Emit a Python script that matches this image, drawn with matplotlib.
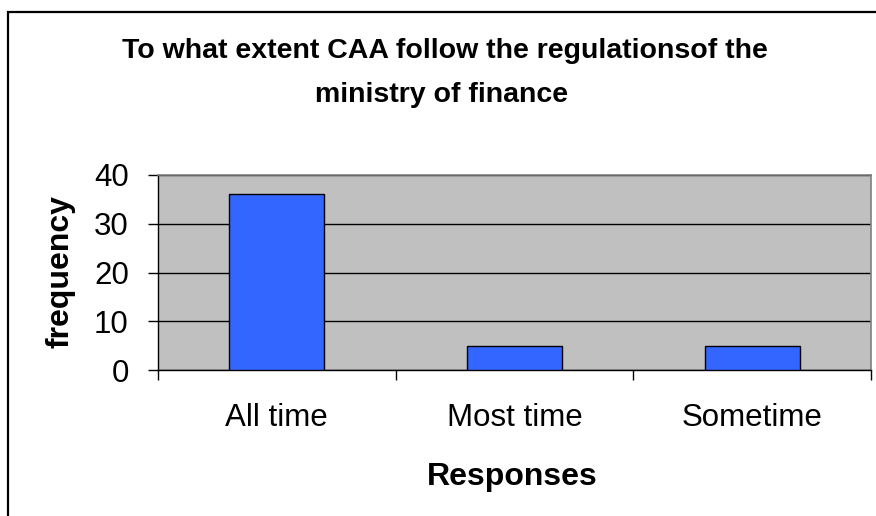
import matplotlib
matplotlib.use("Agg")
import matplotlib.pyplot as plt
from matplotlib.patches import Rectangle

categories = ["All time", "Most time", "Sometime"]
frequency = [36, 5, 5]
y_ticks = [0, 10, 20, 30, 40]
title_lines = ["To what extent CAA follow the regulationsof the",
               "ministry of finance"]

plt.rcParams["font.family"] = ["Liberation Sans", "DejaVu Sans"]

W, H = 876, 516
fig = plt.figure(figsize=(W / 100, H / 100), dpi=100)
fig.patch.set_facecolor("white")

# chart border (left and top edges visible)
fig.patches.append(Rectangle((8 / W, -0.2), 2.0, (H - 12) / H + 0.2,
                             transform=fig.transFigure, fill=False,
                             edgecolor="black", linewidth=1.6, zorder=0))

ax = fig.add_axes([158 / W, (H - 370) / H, 713 / W, 195 / H])
ax.set_facecolor("#C0C0C0")

x = list(range(len(categories)))
ax.bar(x, frequency, width=0.40, color="#3366FF", edgecolor="black",
       linewidth=1.0, zorder=3)

ax.set_xlim(-0.5, len(categories) - 0.5)
ax.set_ylim(0, 40)
ax.set_yticks(y_ticks)
ax.yaxis.grid(True, color="black", linewidth=1.0, zorder=1)
ax.set_axisbelow(True)

# category boundaries carry the tick marks, centres carry the labels
ax.set_xticks([i - 0.5 for i in range(len(categories) + 1)])
ax.set_xticklabels([])
ax.set_xticks(x, minor=True)
ax.set_xticklabels(categories, minor=True, fontsize=22.5)
ax.tick_params(axis="x", which="major", direction="out", length=7.5, width=1.0)
ax.tick_params(axis="x", which="minor", length=0, pad=24)
ax.tick_params(axis="y", direction="out", length=7.5, width=1.0,
               labelsize=22.5, pad=13.5)

for side in ("top", "right"):
    ax.spines[side].set_color("#808080")
    ax.spines[side].set_linewidth(1.2)
for side in ("left", "bottom"):
    ax.spines[side].set_color("black")
    ax.spines[side].set_linewidth(1.0)

fig.text(445 / W, 1 - 58 / H, title_lines[0], ha="center", va="baseline",
         fontsize=20.5, fontweight="bold")
fig.text(442 / W, 1 - 102 / H, title_lines[1], ha="center", va="baseline",
         fontsize=20.5, fontweight="bold")
fig.text(512 / W, 1 - 485 / H, "Responses", ha="center", va="baseline",
         fontsize=23, fontweight="bold")
fig.text(60 / W, 1 - 271.5 / H, "frequency", ha="center", va="center",
         rotation=90, fontsize=23, fontweight="bold")

fig.savefig("out.png", dpi=100)
